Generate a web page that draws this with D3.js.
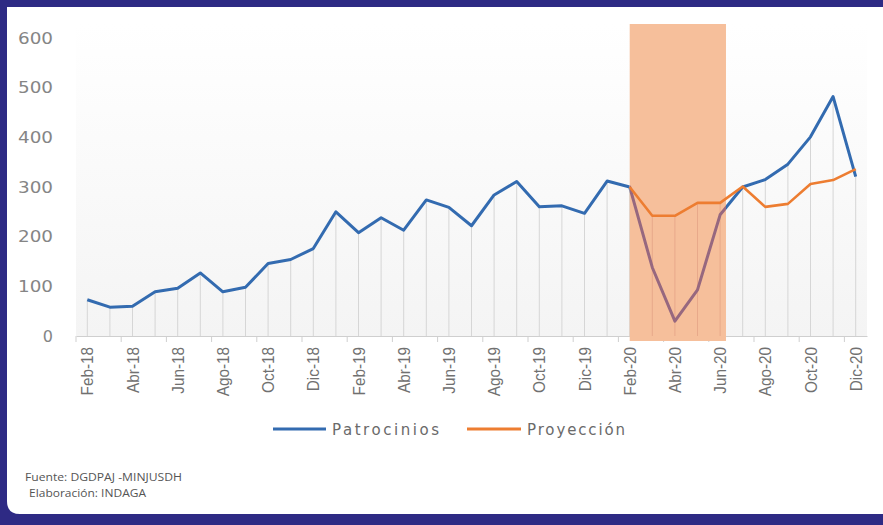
<!DOCTYPE html>
<html>
<head>
<meta charset="utf-8">
<script src="https://cdn.jsdelivr.net/npm/d3@7"></script>
<style>
html,body{margin:0;padding:0;background:#2e2a84;}
svg{display:block;}
</style>
</head>
<body>
<svg id="chart" width="883" height="525"></svg>
<script>
// ---- DATA ----
const months = ["Feb-18","Mar-18","Abr-18","May-18","Jun-18","Jul-18","Ago-18","Set-18","Oct-18","Nov-18","Dic-18",
  "Ene-19","Feb-19","Mar-19","Abr-19","May-19","Jun-19","Jul-19","Ago-19","Set-19","Oct-19","Nov-19","Dic-19",
  "Ene-20","Feb-20","Mar-20","Abr-20","May-20","Jun-20","Jul-20","Ago-20","Set-20","Oct-20","Nov-20","Dic-20"];
const patrocinios = [73,58,60,89,96,127,89,98,146,154,176,
  250,208,238,213,274,259,222,284,311,260,262,247,
  312,300,138,30,93,244,300,315,346,401,482,321];
const proyeccion = [null,null,null,null,null,null,null,null,null,null,null,
  null,null,null,null,null,null,null,null,null,null,null,null,
  null,300,242,242,268,268,301,260,266,306,314,336];
const yTicks = [0,100,200,300,400,500,600];
const highlight = ["Feb-20","Jun-20"];
const seriesNames = ["Patrocinios","Proyección"];
const footer = ["Fuente: DGDPAJ -MINJUSDH"," Elaboración: INDAGA"];

// ---- LAYOUT ----
const svg = d3.select("#chart");
const W = 883, H = 525;
const blue = "#336bb0", orange = "#ed7d31", mauve = "#97687f";

// frame / card
svg.append("rect").attr("width", W).attr("height", H).attr("fill", "#2e2a84");
const r = 13, cx0 = 7, cy0 = 7, cx1 = 883, cy1 = 514;
svg.append("path")
  .attr("d", `M${cx0},${cy0} H${cx1} V${cy1} H${cx0 + r} Q${cx0},${cy1} ${cx0},${cy1 - r} Z`)
  .attr("fill", "#ffffff");

const x = d3.scaleBand().domain(months).range([76, 867]).padding(0);
const bw = x.bandwidth();
const xc = m => x(m) + bw / 2;
const y = d3.scaleLinear().domain([0, 600]).range([336, 38]);

// plot gradient background
const defs = svg.append("defs");
const grad = defs.append("linearGradient").attr("id", "bg").attr("x1", 0).attr("y1", 0).attr("x2", 0).attr("y2", 1);
grad.append("stop").attr("offset", "0%").attr("stop-color", "#ffffff");
grad.append("stop").attr("offset", "100%").attr("stop-color", "#f4f4f4");
svg.append("rect").attr("x", 76).attr("y", 24).attr("width", 791).attr("height", y(0) - 24).attr("fill", "url(#bg)");

// drop lines
svg.append("g").selectAll("line").data(months).join("line")
  .attr("x1", m => xc(m)).attr("x2", m => xc(m))
  .attr("y1", (m, i) => y(Math.max(patrocinios[i], proyeccion[i] ?? 0)))
  .attr("y2", y(0))
  .attr("stroke", "#d6d6d6").attr("stroke-width", 1);

// x axis
const xAxis = d3.axisBottom(x)
  .tickValues(months.filter((m, i) => i % 2 === 0))
  .tickSize(0);
const gx = svg.append("g").attr("transform", `translate(0,${y(0)})`).call(xAxis);
gx.select(".domain").attr("stroke", "#cfcfcf");
gx.selectAll(".tick text")
  .attr("font-family", "Liberation Sans, Arial, sans-serif")
  .attr("font-size", 17)
  .attr("fill", "#707070")
  .attr("text-anchor", "end")
  .attr("x", 0).attr("y", 0).attr("dy", "0.36em")
  .attr("transform", "translate(0,11) rotate(-90) scale(0.9,1)");
// boundary ticks every 2 categories
svg.append("g").selectAll("line").data(months.filter((m, i) => i % 2 === 0)).join("line")
  .attr("x1", m => x(m)).attr("x2", m => x(m))
  .attr("y1", y(0)).attr("y2", y(0) + 6)
  .attr("stroke", "#cfcfcf");

// y axis labels
const yAxis = d3.axisLeft(y).tickValues(yTicks).tickSize(0);
const gy = svg.append("g").attr("transform", "translate(53,0)").call(yAxis);
gy.select(".domain").remove();
gy.selectAll(".tick text")
  .attr("font-family", "DejaVu Sans, Verdana, sans-serif")
  .attr("font-size", 16)
  .attr("fill", "#858585")
  .attr("x", 0)
  .attr("textLength", 35).attr("lengthAdjust", "spacingAndGlyphs");
gy.selectAll(".tick").filter(d => d === 0).select("text").attr("textLength", null);

const line = d3.line().defined(d => d.v != null).x(d => xc(d.m)).y(d => y(d.v));
const pData = months.map((m, i) => ({ m, v: patrocinios[i] }));
const oData = months.map((m, i) => ({ m, v: proyeccion[i] }));

// highlight geometry
const hx0 = xc(highlight[0]);
const hx1 = xc(highlight[1]) + bw * 0.26;
defs.append("clipPath").attr("id", "inside").append("rect")
  .attr("x", hx0).attr("y", 0).attr("width", hx1 - hx0).attr("height", H);
defs.append("clipPath").attr("id", "outside").append("path")
  .attr("d", `M0,0 H${hx0} V${H} H0 Z M${hx1},0 H${W} V${H} H${hx1} Z`);

// blue line outside highlight
svg.append("path").datum(pData).attr("d", line)
  .attr("fill", "none").attr("stroke", blue).attr("stroke-width", 3)
  .attr("stroke-linejoin", "round").attr("clip-path", "url(#outside)");

// highlight rect
svg.append("rect").attr("x", hx0).attr("y", 24).attr("width", hx1 - hx0).attr("height", y(0) + 5 - 24)
  .attr("fill", "#f6bf9b");
// faint drops inside highlight
svg.append("g").selectAll("line").data(months.filter(m => xc(m) > hx0 + 1 && xc(m) < hx1)).join("line")
  .attr("x1", m => xc(m)).attr("x2", m => xc(m))
  .attr("y1", m => y(Math.max(patrocinios[months.indexOf(m)], proyeccion[months.indexOf(m)] ?? 0)))
  .attr("y2", y(0))
  .attr("stroke", "#e8a98a").attr("stroke-width", 1);

// blue line inside highlight (seen through)
svg.append("path").datum(pData).attr("d", line)
  .attr("fill", "none").attr("stroke", mauve).attr("stroke-width", 3)
  .attr("stroke-linejoin", "round").attr("clip-path", "url(#inside)");

// orange line
svg.append("path").datum(oData).attr("d", line)
  .attr("fill", "none").attr("stroke", orange).attr("stroke-width", 2.6)
  .attr("stroke-linejoin", "round");

// legend
const leg = svg.append("g");
const legItems = [
  { name: seriesNames[0], color: blue, x0: 273, x1: 326, tl: 107 },
  { name: seriesNames[1], color: orange, x0: 467, x1: 521, tl: 98 }
];
legItems.forEach(it => {
  leg.append("line").attr("x1", it.x0).attr("x2", it.x1).attr("y1", 429).attr("y2", 429)
    .attr("stroke", it.color).attr("stroke-width", 3);
  leg.append("text").attr("x", it.x1 + 6).attr("y", 434.5)
    .attr("font-family", "DejaVu Sans, Verdana, sans-serif").attr("font-size", 15)
    .attr("fill", "#6a6a6a")
    .attr("textLength", it.tl).attr("lengthAdjust", "spacing")
    .text(it.name);
});

// footer
svg.append("text").attr("x", 25).attr("y", 481)
  .attr("font-family", "Open Sans, sans-serif").attr("font-size", 11.5).attr("fill", "#555")
  .attr("textLength", 157).attr("lengthAdjust", "spacingAndGlyphs").text(footer[0]);
svg.append("text").attr("x", 26).attr("y", 497)
  .attr("font-family", "Open Sans, sans-serif").attr("font-size", 11.5).attr("fill", "#555")
  .attr("textLength", 120).attr("lengthAdjust", "spacingAndGlyphs").attr("xml:space", "preserve").text(footer[1]);
</script>
</body>
</html>
